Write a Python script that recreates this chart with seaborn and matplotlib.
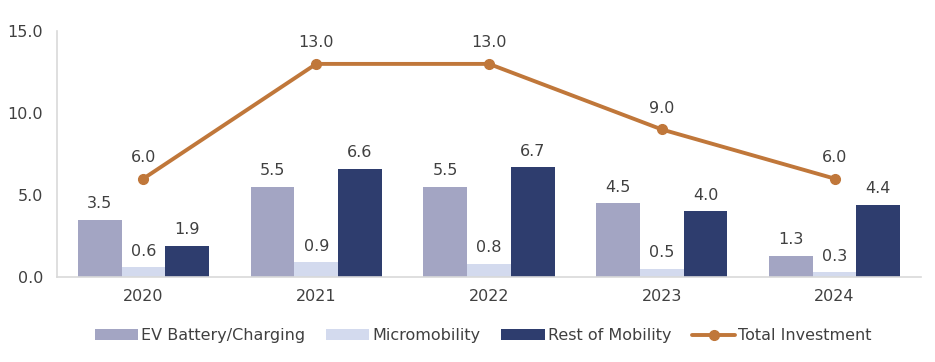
import matplotlib
matplotlib.use("Agg")
import matplotlib.pyplot as plt
import pandas as pd
import seaborn as sns
from matplotlib.lines import Line2D
from matplotlib.patches import Patch

years = ["2020", "2021", "2022", "2023", "2024"]
ev_battery = [3.5, 5.5, 5.5, 4.5, 1.3]
micromobility = [0.6, 0.9, 0.8, 0.5, 0.3]
rest_mobility = [1.9, 6.6, 6.7, 4.0, 4.4]
total_investment = [6.0, 13.0, 13.0, 9.0, 6.0]
series_names = ["EV Battery/Charging", "Micromobility", "Rest of Mobility"]
colors = ["#A3A5C3", "#D3DAEE", "#2E3D6E"]
line_color = "#C0773A"
text_color = "#404040"

sns.set_theme(style="white")
plt.rcParams["font.family"] = ["DejaVu Sans"]
fs = 11.5

df = pd.DataFrame({
    "year": years * 3,
    "value": ev_battery + micromobility + rest_mobility,
    "series": [s for s in series_names for _ in years],
})

fig = plt.figure(figsize=(9.35, 3.62), dpi=100)
ax = fig.add_axes([0.061, 0.235, 0.924, 0.679])

sns.barplot(data=df, x="year", y="value", hue="series", palette=colors,
            width=0.76, gap=0, saturation=1, linewidth=0, ax=ax, legend=False)
for c in ax.containers:
    ax.bar_label(c, fmt="%.1f", padding=6, fontsize=fs, color=text_color)

xs = list(range(len(years)))
ax.plot(xs, total_investment, color=line_color, lw=2.8, marker="o",
        markersize=7, zorder=5)
for x, v in zip(xs, total_investment):
    ax.annotate(f"{v:.1f}", (x, v), xytext=(0, 10), textcoords="offset points",
                ha="center", va="bottom", fontsize=fs, color=text_color)

ax.set_xlim(-0.5, len(years) - 0.5)
ax.set_ylim(0, 15)
ax.set_yticks([0, 5, 10, 15])
ax.set_yticklabels([f"{t:.1f}" for t in [0, 5, 10, 15]])
ax.set_xlabel("")
ax.set_ylabel("")
ax.tick_params(axis="both", labelsize=fs, colors=text_color, length=0)
ax.tick_params(axis="x", pad=9)
ax.tick_params(axis="y", pad=10)
for side in ["top", "right"]:
    ax.spines[side].set_visible(False)
for side in ["left", "bottom"]:
    ax.spines[side].set_color("#D9D9D9")
    ax.spines[side].set_linewidth(1.2)

handles = [Patch(facecolor=c, edgecolor="none") for c in colors]
handles.append(Line2D([0], [0], color=line_color, lw=2.8, marker="o", markersize=7))
labels = series_names + ["Total Investment"]
fig.legend(handles, labels, loc="center", bbox_to_anchor=(0.517, 0.073), ncol=4,
           frameon=False, fontsize=fs, handlelength=2.7, handleheight=0.6,
           columnspacing=1.3, handletextpad=0.2, labelcolor=text_color)

fig.savefig("out.png", dpi=100)
